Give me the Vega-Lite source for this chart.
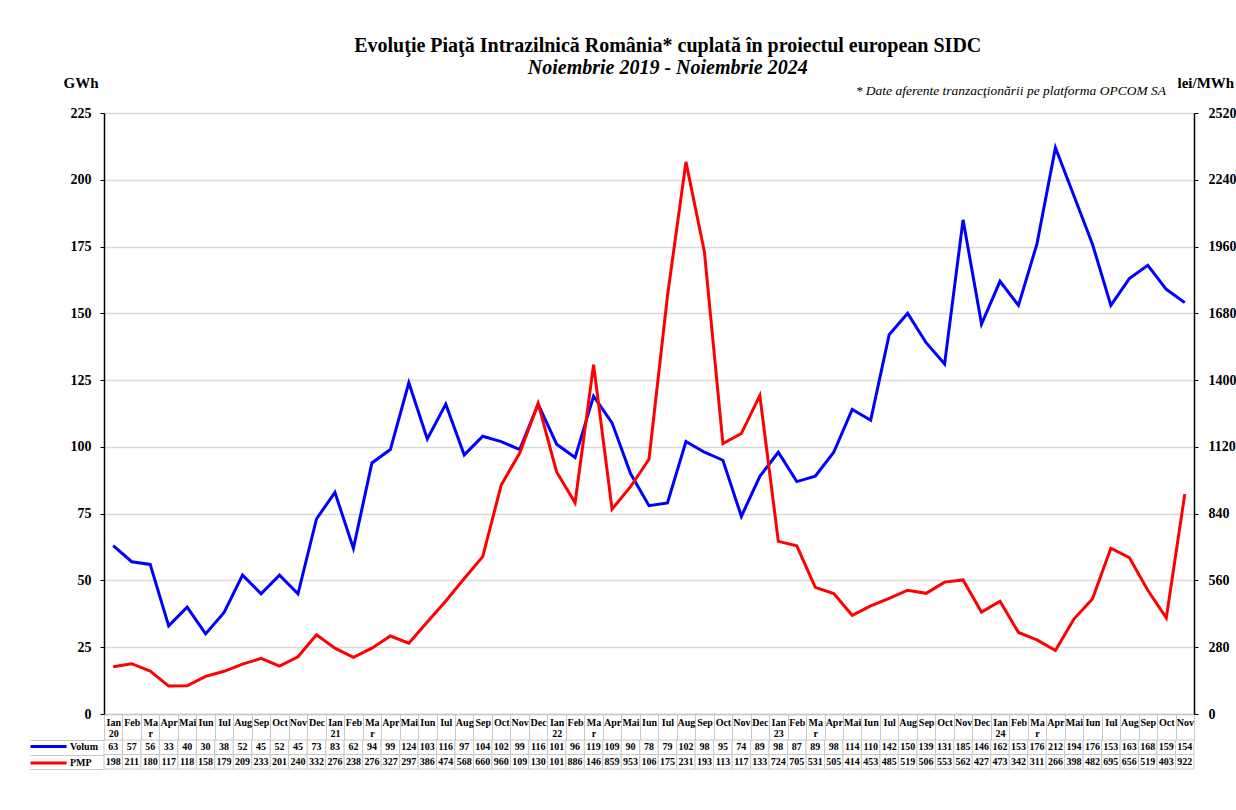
{
  "$schema": "https://vega.github.io/schema/vega-lite/v6.json",
  "background": "white",
  "padding": {"left": 29, "top": 36, "right": 0, "bottom": 0},
  "config": {"view": {"stroke": null}, "font": "Liberation Serif"},
  "title": {
    "text": "Evoluţie Piaţă Intrazilnică România* cuplată în proiectul  european SIDC",
    "subtitle": "Noiembrie 2019 - Noiembrie 2024",
    "font": "Liberation Serif", "fontSize": 20, "fontWeight": "bold", "color": "black",
    "subtitleFont": "Liberation Serif", "subtitleFontSize": 20, "subtitleFontStyle": "italic",
    "subtitleFontWeight": "bold", "subtitleColor": "black", "subtitlePadding": 2,
    "anchor": "middle", "offset": -3, "dx": 35
  },
  "data": {"values": [
    {"luna": "Ian 20", "Volum": 63, "PMP": 198},
    {"luna": "Feb 20", "Volum": 57, "PMP": 211},
    {"luna": "Mar 20", "Volum": 56, "PMP": 180},
    {"luna": "Apr 20", "Volum": 33, "PMP": 117},
    {"luna": "Mai 20", "Volum": 40, "PMP": 118},
    {"luna": "Iun 20", "Volum": 30, "PMP": 158},
    {"luna": "Iul 20", "Volum": 38, "PMP": 179},
    {"luna": "Aug 20", "Volum": 52, "PMP": 209},
    {"luna": "Sep 20", "Volum": 45, "PMP": 233},
    {"luna": "Oct 20", "Volum": 52, "PMP": 201},
    {"luna": "Nov 20", "Volum": 45, "PMP": 240},
    {"luna": "Dec 20", "Volum": 73, "PMP": 332},
    {"luna": "Ian 21", "Volum": 83, "PMP": 276},
    {"luna": "Feb 21", "Volum": 62, "PMP": 238},
    {"luna": "Mar 21", "Volum": 94, "PMP": 276},
    {"luna": "Apr 21", "Volum": 99, "PMP": 327},
    {"luna": "Mai 21", "Volum": 124, "PMP": 297},
    {"luna": "Iun 21", "Volum": 103, "PMP": 386},
    {"luna": "Iul 21", "Volum": 116, "PMP": 474},
    {"luna": "Aug 21", "Volum": 97, "PMP": 568},
    {"luna": "Sep 21", "Volum": 104, "PMP": 660},
    {"luna": "Oct 21", "Volum": 102, "PMP": 960},
    {"luna": "Nov 21", "Volum": 99, "PMP": 1094},
    {"luna": "Dec 21", "Volum": 116, "PMP": 1302},
    {"luna": "Ian 22", "Volum": 101, "PMP": 1015},
    {"luna": "Feb 22", "Volum": 96, "PMP": 886},
    {"luna": "Mar 22", "Volum": 119, "PMP": 1465},
    {"luna": "Apr 22", "Volum": 109, "PMP": 859},
    {"luna": "Mai 22", "Volum": 90, "PMP": 953},
    {"luna": "Iun 22", "Volum": 78, "PMP": 1068},
    {"luna": "Iul 22", "Volum": 79, "PMP": 1753},
    {"luna": "Aug 22", "Volum": 102, "PMP": 2315},
    {"luna": "Sep 22", "Volum": 98, "PMP": 1937},
    {"luna": "Oct 22", "Volum": 95, "PMP": 1134},
    {"luna": "Nov 22", "Volum": 74, "PMP": 1176},
    {"luna": "Dec 22", "Volum": 89, "PMP": 1336},
    {"luna": "Ian 23", "Volum": 98, "PMP": 724},
    {"luna": "Feb 23", "Volum": 87, "PMP": 705},
    {"luna": "Mar 23", "Volum": 89, "PMP": 531},
    {"luna": "Apr 23", "Volum": 98, "PMP": 505},
    {"luna": "Mai 23", "Volum": 114, "PMP": 414},
    {"luna": "Iun 23", "Volum": 110, "PMP": 453},
    {"luna": "Iul 23", "Volum": 142, "PMP": 485},
    {"luna": "Aug 23", "Volum": 150, "PMP": 519},
    {"luna": "Sep 23", "Volum": 139, "PMP": 506},
    {"luna": "Oct 23", "Volum": 131, "PMP": 553},
    {"luna": "Nov 23", "Volum": 185, "PMP": 562},
    {"luna": "Dec 23", "Volum": 146, "PMP": 427},
    {"luna": "Ian 24", "Volum": 162, "PMP": 473},
    {"luna": "Feb 24", "Volum": 153, "PMP": 342},
    {"luna": "Mar 24", "Volum": 176, "PMP": 311},
    {"luna": "Apr 24", "Volum": 212, "PMP": 266},
    {"luna": "Mai 24", "Volum": 194, "PMP": 398},
    {"luna": "Iun 24", "Volum": 176, "PMP": 482},
    {"luna": "Iul 24", "Volum": 153, "PMP": 695},
    {"luna": "Aug 24", "Volum": 163, "PMP": 656},
    {"luna": "Sep 24", "Volum": 168, "PMP": 519},
    {"luna": "Oct 24", "Volum": 159, "PMP": 403},
    {"luna": "Nov 24", "Volum": 154, "PMP": 922}
  ]},
  "bounds": "flush",
  "spacing": 26,
  "vconcat": [
    {
      "width": 1090,
      "height": 601,
      "title": {
        "text": "* Date aferente tranzacţionării pe platforma OPCOM SA",
        "anchor": "end", "frame": "group", "font": "Liberation Serif", "fontStyle": "italic",
        "fontWeight": "normal", "fontSize": 13.5, "color": "black", "dx": -28, "offset": -22.5
      },
      "transform": [{"fold": ["Volum", "PMP"], "as": ["serie", "val"]}],
      "encoding": {
        "x": {
          "field": "luna", "type": "ordinal", "sort": null,
          "scale": {"type": "band", "paddingInner": 0, "paddingOuter": 0},
          "axis": {
            "title": null, "labelAngle": 0, "labelOverlap": false, "labelBound": false,
            "labelExpr": "isString(datum.value) ? (indexof(datum.value,'Ian')==0 ? split(datum.value,' ') : (indexof(datum.value,'Mar')==0 ? ['Ma','r'] : split(datum.value,' ')[0])) : ''",
            "labelFont": "Liberation Serif", "labelFontWeight": "bold", "labelFontSize": 10,
            "labelColor": "black", "labelBaseline": "top", "labelLineHeight": 11,
            "labelPadding": -23, "tickBand": "extent", "tickSize": 26, "tickColor": "#c8c8c8",
            "tickWidth": 1, "domainColor": "#c8c8c8", "domainWidth": 1.5, "grid": false
          }
        },
        "color": {
          "field": "serie", "type": "nominal",
          "scale": {"domain": ["Volum", "PMP"], "range": ["#0000ff", "#ff0000"]},
          "legend": {
            "orient": "none", "legendX": -51, "legendY": 626, "title": null,
            "symbolType": "M-5,0H1", "symbolSize": 144, "symbolStrokeWidth": 3,
            "labelFont": "Liberation Serif", "labelFontWeight": "bold", "labelFontSize": 10,
            "labelColor": "black", "labelOffset": 2, "rowPadding": 2.5, "padding": 0
          }
        }
      },
      "layer": [
        {
          "transform": [{"filter": "datum.serie == 'Volum'"}],
          "mark": {"type": "line", "strokeWidth": 3},
          "encoding": {
            "y": {
              "field": "val", "type": "quantitative",
              "scale": {"domain": [0, 225], "nice": false},
              "axis": {
                "orient": "left", "values": [0, 25, 50, 75, 100, 125, 150, 175, 200, 225],
                "title": "GWh", "titleAngle": 0, "titleAlign": "left", "titleBaseline": "alphabetic",
                "titleX": -41, "titleY": -26, "titleFont": "Liberation Serif", "titleFontSize": 15,
                "titleFontWeight": "bold", "titleColor": "black",
                "labelFont": "Liberation Serif", "labelFontSize": 14, "labelFontWeight": "bold",
                "labelColor": "black", "labelPadding": 9, "tickSize": 4, "tickColor": "black",
                "domainColor": "black", "domainWidth": 1.5, "grid": true, "gridColor": "#d9d9d9",
                "gridWidth": 1.5
              }
            }
          }
        },
        {
          "transform": [{"filter": "datum.serie == 'PMP'"}],
          "mark": {"type": "line", "strokeWidth": 3},
          "encoding": {
            "y": {
              "field": "val", "type": "quantitative",
              "scale": {"domain": [0, 2520], "nice": false},
              "axis": {
                "orient": "right", "values": [0, 280, 560, 840, 1120, 1400, 1680, 1960, 2240, 2520],
                "format": "d",
                "title": "lei/MWh", "titleAngle": 0, "titleAlign": "left", "titleBaseline": "alphabetic",
                "titleX": -17, "titleY": -26, "titleFont": "Liberation Serif", "titleFontSize": 15,
                "titleFontWeight": "bold", "titleColor": "black",
                "labelFont": "Liberation Serif", "labelFontSize": 14, "labelFontWeight": "bold",
                "labelColor": "black", "labelPadding": 10, "tickSize": 4, "tickColor": "black",
                "domainColor": "black", "domainWidth": 1.5, "grid": false
              }
            }
          }
        }
      ],
      "resolve": {"scale": {"y": "independent"}}
    },
    {
      "width": 1090,
      "height": 29,
      "transform": [
        {"fold": ["Volum", "PMP"], "as": ["serie", "val"]},
        {"calculate": "datum.serie == 'PMP' ? substring(toString(datum.val), 0, 3) : toString(datum.val)", "as": "eticheta"}
      ],
      "encoding": {
        "x": {
          "field": "luna", "type": "ordinal", "sort": null, "axis": null,
          "scale": {"type": "band", "paddingInner": 0, "paddingOuter": 0}
        },
        "y": {
          "field": "serie", "type": "nominal", "sort": ["Volum", "PMP"],
          "scale": {"paddingInner": 0, "paddingOuter": 0},
          "axis": {
            "title": null, "labels": false, "domain": false, "tickBand": "extent",
            "tickSize": 74, "tickColor": "#c8c8c8", "tickWidth": 1
          }
        }
      },
      "layer": [
        {"mark": {"type": "rect", "fill": "white", "stroke": "#c8c8c8", "strokeWidth": 1}},
        {
          "mark": {"type": "text", "font": "Liberation Serif", "fontWeight": "bold", "fontSize": 10, "color": "black"},
          "encoding": {"text": {"field": "eticheta", "type": "nominal"}}
        }
      ]
    }
  ]
}
